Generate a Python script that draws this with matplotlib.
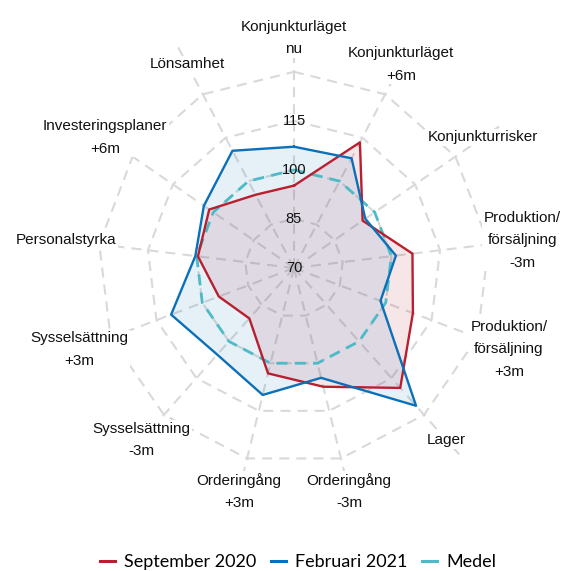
import numpy as np
import matplotlib
matplotlib.use("Agg")
import matplotlib.pyplot as plt
from matplotlib.lines import Line2D

categories = [
    "Konjunkturläget\nnu",
    "Konjunkturläget\n+6m",
    "Konjunkturrisker",
    "Produktion/\nförsäljning\n-3m",
    "Produktion/\nförsäljning\n+3m",
    "Lager",
    "Orderingång\n-3m",
    "Orderingång\n+3m",
    "Sysselsättning\n-3m",
    "Sysselsättning\n+3m",
    "Personalstyrka",
    "Investeringsplaner\n+6m",
    "Lönsamhet",
]
sep2020 = [95.2, 113.4, 95.5, 106.5, 108.9, 119.0, 107.4, 103.2, 90.6, 94.6, 99.6, 101.5, 95.3]
feb2021 = [107.1, 107.9, 96.5, 101.4, 98.3, 126.3, 104.6, 110.0, 105.4, 110.2, 100.4, 103.5, 110.5]
medel = [100] * 13
tick_values = [70, 85, 100, 115]
ring_values = [85, 100, 115, 130]
series_names = ["September 2020", "Februari 2021", "Medel"]

RMIN, RMAX = 70, 148
red = "#b81f2f"
blue = "#0b70b8"
cyan = "#4dbac8"
grid_c = "#d9d9d9"

W, H = 563, 571
fig = plt.figure(figsize=(W / 100, H / 100), dpi=100)
cx, cy, R = 294, 268, 255
ax = fig.add_axes([(cx - R) / W, (H - cy - R) / H, 2 * R / W, 2 * R / H], polar=True)
ax.set_theta_zero_location("N")
ax.set_theta_direction(-1)
ax.set_ylim(RMIN, RMAX)
ax.grid(False)
ax.set_xticks([])
ax.set_yticks([])
ax.spines["polar"].set_visible(False)
ax.patch.set_alpha(0)

n = len(categories)
theta = np.arange(n) * 2 * np.pi / n
theta_c = np.append(theta, theta[0])

dash = (0, (4.8, 3.4))
# polygon rings
for rv in ring_values:
    ax.plot(theta_c, [rv] * (n + 1), color=grid_c, lw=1.5, linestyle=dash, zorder=1)
# axis lines
for t in theta:
    ax.plot([t, t], [RMIN, RMAX], color=grid_c, lw=1.5, linestyle=dash, zorder=1)

def closed(v):
    return np.append(v, v[0])

ax.fill(theta_c, closed(sep2020), color=red, alpha=0.11, zorder=2, lw=0)
ax.fill(theta_c, closed(feb2021), color=blue, alpha=0.10, zorder=2, lw=0)
ax.plot(theta_c, closed(medel), color=cyan, lw=2.0, linestyle=(0, (4.0, 2.6)), zorder=3)
ax.plot(theta_c, closed(sep2020), color=red, lw=1.7, zorder=4)
ax.plot(theta_c, closed(feb2021), color=blue, lw=1.7, zorder=5)

for tv in tick_values:
    ax.text(0, tv, str(tv), ha="center", va="center", fontsize=10.5,
            family="Liberation Sans", color="#111111", zorder=6)

for t, lab in zip(theta, categories):
    ax.text(t, 140.3, lab, ha="center", va="center", fontsize=11, linespacing=1.75,
            family="Liberation Sans", color="#111111", zorder=7,
            bbox=dict(boxstyle="square,pad=0.1", fc="white", ec="none"))

handles = [Line2D([], [], color=c, lw=2.2) for c in (red, blue, cyan)]
fig.legend(handles, series_names, loc="center", bbox_to_anchor=(298 / W, 1 - 562 / H),
           ncol=3, frameon=False, prop={"family": "Lato", "size": 13},
           handlelength=0.85, handletextpad=0.5, columnspacing=0.8)

fig.savefig("out.png", dpi=100)
